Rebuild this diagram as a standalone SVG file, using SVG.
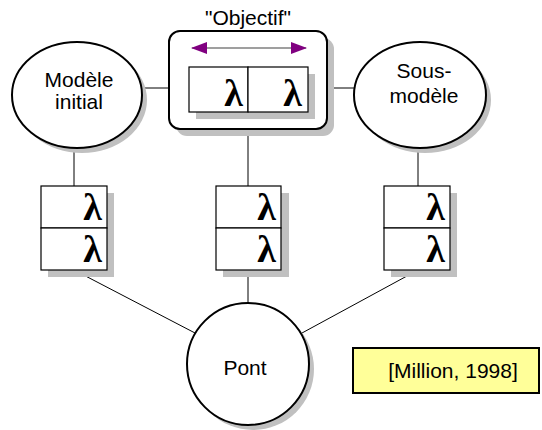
<svg xmlns="http://www.w3.org/2000/svg" width="542" height="430" viewBox="0 0 542 430">
<style>
.txt{font-family:"Liberation Sans",Arial,sans-serif;font-size:21px;fill:#000;text-anchor:middle}
.lam{font-family:"Liberation Serif","Times New Roman",serif;font-weight:bold;font-size:38px;fill:#000;text-anchor:end}
.sh{fill:#c0c0c0;stroke:none}
.node{fill:#fff;stroke:#000;stroke-width:2}
.cell{fill:#fff;stroke:#000;stroke-width:1.2}
.conn{stroke:#000;stroke-width:1;fill:none}
</style>
<defs>
<marker id="ah" viewBox="0 0 16 12" refX="15" refY="6" markerWidth="16" markerHeight="12" markerUnits="userSpaceOnUse" orient="auto-start-reverse">
<path d="M0,0 L16,6 L0,12 Z" fill="#800080"/>
</marker>
</defs>
<rect width="542" height="430" fill="#fff"/>
<g id="connectors">
<line class="conn" x1="141" y1="88" x2="189" y2="88"/>
<line class="conn" x1="308" y1="88" x2="355" y2="88"/>
<line class="conn" x1="248" y1="129" x2="248" y2="186"/>
<line class="conn" x1="74" y1="148" x2="74" y2="186"/>
<line class="conn" x1="418" y1="148" x2="418" y2="186"/>
<line class="conn" x1="74" y1="270" x2="195" y2="333"/>
<line class="conn" x1="248" y1="270" x2="248" y2="303"/>
<line class="conn" x1="418" y1="270" x2="302" y2="333"/>
</g>
<g id="modele-initial">
<ellipse class="sh" cx="82" cy="100" rx="65" ry="53"/>
<ellipse class="node" cx="77" cy="95" rx="65" ry="53"/>
<text class="txt" x="79" y="87">Modèle</text>
<text class="txt" x="79" y="109">initial</text>
</g>
<g id="sous-modele">
<ellipse class="sh" cx="425" cy="100" rx="66" ry="53"/>
<ellipse class="node" cx="420" cy="95" rx="66" ry="53"/>
<text class="txt" x="424" y="78">Sous-</text>
<text class="txt" x="424" y="103">modèle</text>
</g>
<g id="objectif">
<text class="txt" x="248" y="25">"Objectif"</text>
<rect class="sh" x="176" y="38" width="158" height="98" rx="11"/>
<rect class="node" x="169" y="31" width="158" height="98" rx="11"/>
<line x1="192" y1="48" x2="306" y2="48" stroke="#404040" stroke-width="1.2" marker-start="url(#ah)" marker-end="url(#ah)"/>
<rect class="sh" x="196" y="74" width="119" height="45"/>
<rect class="cell" x="189" y="67" width="59" height="45"/>
<rect class="cell" x="248" y="67" width="60" height="45"/>
<text class="lam" x="243" y="106">λ</text>
<text class="lam" x="302" y="106">λ</text>
</g>
<g id="stack-left">
<rect class="sh" x="48" y="193" width="66" height="84"/>
<rect class="cell" x="41" y="186" width="66" height="42"/>
<rect class="cell" x="41" y="228" width="66" height="42"/>
<text class="lam" x="102" y="220">λ</text>
<text class="lam" x="102" y="262">λ</text>
</g>
<g id="stack-middle">
<rect class="sh" x="223" y="193" width="66" height="84"/>
<rect class="cell" x="216" y="186" width="65" height="42"/>
<rect class="cell" x="216" y="228" width="65" height="42"/>
<text class="lam" x="276" y="220">λ</text>
<text class="lam" x="276" y="262">λ</text>
</g>
<g id="stack-right">
<rect class="sh" x="391" y="193" width="66" height="84"/>
<rect class="cell" x="384" y="186" width="66" height="42"/>
<rect class="cell" x="384" y="228" width="66" height="42"/>
<text class="lam" x="445" y="220">λ</text>
<text class="lam" x="445" y="262">λ</text>
</g>
<g id="pont">
<circle class="sh" cx="253" cy="369" r="61"/>
<circle class="node" cx="248" cy="364" r="61"/>
<text class="txt" x="245" y="375">Pont</text>
</g>
<g id="citation">
<rect x="353" y="348" width="186" height="45" fill="#ffff99" stroke="#000" stroke-width="2"/>
<text class="txt" x="453" y="378">[Million, 1998]</text>
</g>
</svg>
